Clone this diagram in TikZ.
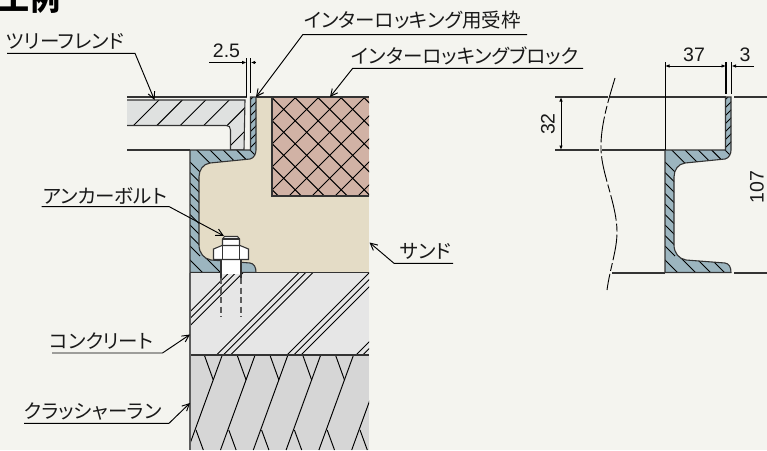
\documentclass[tikz,border=0pt]{standalone}
\usepackage{fontspec}
\setmainfont{Liberation Sans}
\newfontfamily\jpfont[RawFeature={+palt}]{Noto Sans CJK JP}
\usetikzlibrary{arrows.meta}
\definecolor{paper}{HTML}{F4F4EF}
\definecolor{steelblue}{HTML}{9CB5BF}
\definecolor{sandfill}{HTML}{E4DCC6}
\definecolor{brickfill}{HTML}{D1B2A5}
\definecolor{framefill}{HTML}{DFE1E0}
\definecolor{concfill}{HTML}{E6E6E6}
\definecolor{crushfill}{HTML}{D6D6D6}
\definecolor{inkgrey}{HTML}{333333}
\tikzset{
  lbl/.style={font=\jpfont\fontsize{19.5}{20}\selectfont,inner sep=0pt,text=black!90},
  dimtext/.style={font=\fontsize{19.5}{20}\selectfont,inner sep=0pt,text=black!90},
  lead/.style={line width=0.95pt,-{Straight Barb[length=7pt,width=7pt]}},
  dimline/.style={line width=0.9pt,{Latex[length=4.5pt,width=3.5pt]}-{Latex[length=4.5pt,width=3.5pt]}},
  dimend/.style={line width=0.9pt,-{Latex[length=4.5pt,width=3.5pt]}},
  edge/.style={line width=1.1pt,draw=inkgrey},
  hatch/.style={line width=0.95pt,black}
}
% channel section, #1 = start points of the lower flange hatching
\def\channel#1{
  \def\channelpath{(190,150) -- (250.5,150) -- (250.5,97) -- (256,97) -- (256,150) .. controls (256,154) and (254,158) .. (250,159) -- (210,163) .. controls (203,164) and (199,170) .. (199,177) -- (199,245) .. controls (199,253) and (204,259) .. (211,260) -- (250,263) .. controls (254,263.5) and (256,267) .. (256,272.5) -- (190,272.5) -- cycle}
  \fill[steelblue] \channelpath;
  \begin{scope}
    \clip \channelpath;
    \foreach \x in {196.7,210,223.3,236.6,250}
      \draw[hatch] (\x,150) -- ++(22,22);
    \foreach \y in {162,172.5,183,193.5,204,214.5,225,235.5,246}
      \draw[hatch] (190,\y) -- ++(10,10);
    \foreach \x in {#1}
      \draw[hatch] (\x,258) -- ++(17,17);
    \foreach \y in {100,108,116,124,132,140,148}
      \draw[hatch] (250,\y) -- ++(7,-7);
  \end{scope}
  \draw[edge] \channelpath;
}

\begin{document}
\begin{tikzpicture}[x=1pt,y=-1pt]
  \useasboundingbox (0,0) rectangle (767,450);
  \fill[paper] (0,0) rectangle (767,450);

  \node[anchor=base west,inner sep=0pt,font=\jpfont\bfseries\fontsize{31}{31}\selectfont] (title) at (-2,10) {工例};

  % sand
  \fill[sandfill] (195,150) rectangle (369,272);
  \fill[sandfill] (256,97) rectangle (369,150);

  % block
  \fill[brickfill] (272,97) rectangle (369,196);
  \begin{scope}
    \clip (272,97) rectangle (369,196);
    \foreach \k in {-1,...,12} {
      \draw[hatch] ({393+23*\k-90},90) -- ({393+23*\k-200},200);
      \draw[hatch] ({174.4+23*\k+90-23*5},90) -- ({174.4+23*\k+200-23*5},200);
    }
  \end{scope}
  \draw[edge] (369,196) -- (272,196) -- (272,97);
  \draw[edge] (256,97) -- (369,97);

  % frame piece
  \fill[framefill] (127,100) -- (245,100) -- (244,150) -- (230.5,150) -- (230.5,130) .. controls (230.5,127) and (229,125.5) .. (226,125.5) -- (127,125.5) -- cycle;
  \begin{scope}
    \clip (127,100) -- (245,100) -- (244,150) -- (230.5,150) -- (230.5,130) .. controls (230.5,127) and (229,125.5) .. (226,125.5) -- (127,125.5) -- cycle;
    \foreach \k in {0,...,5}
      \draw[hatch] ({159+23.4*\k},100) -- ({109+23.4*\k},150);
  \end{scope}
  \draw[edge] (127,97) -- (246.7,97);
  \draw[edge] (127,100) -- (245,100) -- (244,150) -- (230.5,150) -- (230.5,130) .. controls (230.5,127) and (229,125.5) .. (226,125.5) -- (127,125.5);
  \draw[edge] (127,150) -- (190,150);

  % channel in place
  \channel{188,206}

  % concrete
  \fill[concfill] (190,272.5) rectangle (369,355);
  \begin{scope}
    \clip (190,272.5) rectangle (369,355);
    \foreach \s in {501.7,571.5,642,711}
      \foreach \d in {0,6.8,14}
        \draw[hatch] ({\s+\d-272},272) -- ({\s+\d-355},355);
  \end{scope}

  % crusher run
  \fill[crushfill] (190,355) rectangle (369,450);
  \begin{scope}
    \clip (190,355) rectangle (369,450);
    \foreach \k in {0,...,5}
      \draw[hatch] ({222.3+32.8*\k},355) -- ({187.7+32.8*\k},450);
    \foreach \k in {0,...,4}
      \draw[hatch] ({204.3+32.8*\k},355) -- ({213.3+32.8*\k},380);
    \foreach \k in {0,...,5}
      \draw[hatch] ({196+32.8*\k},430) -- ({203.3+32.8*\k},450);
  \end{scope}
  \draw[edge] (190,272.5) -- (369,272.5);
  \draw[edge] (190,355) -- (369,355);
  \draw[line width=1.3pt,draw=inkgrey!80] (190,272.5) -- (190,450);

  % bolt
  \fill[white] (222,260) rectangle (240,274);
  \draw[line width=1.5pt,draw=inkgrey] (220.8,260) -- (220.8,278);
  \draw[line width=1.5pt,draw=inkgrey] (241.2,260) -- (241.2,278);
  \draw[edge,fill=white] (222.5,245.5) -- (222.5,239) -- (224.5,236.5) -- (237.5,236.5) -- (239.5,239) -- (239.5,245.5);
  \draw[edge] (222.5,239) -- (239.5,239);
  \draw[edge,fill=white] (213.5,249) -- (222,245.5) -- (240,245.5) -- (248.5,249) -- (248.5,259.5) -- (213.5,259.5) -- cycle;
  \draw[edge] (222.5,245.5) -- (222.5,259.5);
  \draw[edge] (239.5,245.5) -- (239.5,259.5);
  \draw[line width=1.1pt,draw=inkgrey!80,dash pattern=on 6pt off 3.5pt] (221,278) -- (221,317);
  \draw[line width=1.1pt,draw=inkgrey!80,dash pattern=on 6pt off 3.5pt] (241,278) -- (241,317);

  % labels with leaders
  \node[lbl] (tree) at (65.5,41.5) {ツリーフレンド};
  \coordinate (treeL) at (7,53.3);
  \coordinate (treeB) at (135,53.3);
  \coordinate (treeT) at (154.5,100);
  \draw[lead] (treeL) -- (treeB) -- (treeT);

  \node[lbl] (recv) at (412.5,20.5) {インターロッキング用受枠};
  \coordinate (recvL) at (527,34.7);
  \coordinate (recvB) at (302.7,34.7);
  \coordinate (recvT) at (256,97);
  \draw[lead] (recvL) -- (recvB) -- (recvT);

  \node[lbl] (ilb) at (465,56) {インターロッキングブロック};
  \coordinate (ilbL) at (583,68.3);
  \coordinate (ilbB) at (352.7,68.3);
  \coordinate (ilbT) at (330,97);
  \draw[lead] (ilbL) -- (ilbB) -- (ilbT);

  \node[lbl] (anchorb) at (105,195.5) {アンカーボルト};
  \coordinate (anchorL) at (41.7,206.7);
  \coordinate (anchorB) at (169.3,206.7);
  \coordinate (anchorT) at (224,236);
  \draw[lead] (anchorL) -- (anchorB) -- (anchorT);

  \node[lbl] (sand) at (425.5,251) {サンド};
  \coordinate (sandL) at (453,263.3);
  \coordinate (sandB) at (394,263.3);
  \coordinate (sandT) at (369.5,242.5);
  \draw[lead] (sandL) -- (sandB) -- (sandT);

  \node[lbl] (conc) at (101.5,341) {コンクリート};
  \coordinate (concL) at (52,353);
  \coordinate (concB) at (162.5,353);
  \coordinate (concT) at (190,334.5);
  \draw[lead] (concL) -- (concB) -- (concT);

  \node[lbl] (crush) at (93,412) {クラッシャーラン};
  \coordinate (crushL) at (24,423.3);
  \coordinate (crushB) at (169,423.3);
  \coordinate (crushT) at (190,403);
  \draw[lead] (crushL) -- (crushB) -- (crushT);

  % dimension 2.5
  \node[dimtext] (dimA) at (226.5,51) {2.5};
  \coordinate (dimAL) at (209,62.5);
  \coordinate (dimAR) at (246.7,62.5);
  \coordinate (dimARb) at (256,62.5);
  \coordinate (dimARc) at (250.7,62.5);
  \draw[dimend] (dimAL) -- (dimAR);
  \draw[dimend] (dimARb) -- (dimARc);
  \draw[line width=0.9pt] (246.7,58) -- (246.7,97);
  \draw[line width=0.9pt] (250.7,58) -- (250.7,93);

  % detail on the right
  \begin{scope}[xshift=475pt]
    \channel{188,206,221,235,248}
  \end{scope}
  \draw[edge] (555,97) -- (608,97);
  \draw[edge] (609.5,97) -- (726,97);
  \draw[edge] (734,97) -- (767,97);
  \draw[edge] (555,150) -- (599,150);
  \draw[edge] (602,150) -- (665,150);
  \draw[edge] (612,273) -- (665,273);
  \draw[edge] (734,273) -- (767,273);
  \draw[line width=0.9pt,dash pattern=on 26pt off 3pt on 8pt off 3pt] (615,78) .. controls (610,95) and (600,125) .. (601,150) .. controls (602,175) and (617,205) .. (617,232) .. controls (617,250) and (610,268) .. (607,290);

  \node[dimtext] (dimB) at (694,55) {37};
  \node[dimtext] (dimC) at (745,55) {3};
  \node[dimtext,rotate=90] (dimD) at (548,124) {32};
  \node[dimtext,rotate=90] (dimE) at (757,187) {107};
  \coordinate (dimBL) at (665,66);
  \coordinate (dimBR) at (726,66);
  \coordinate (dimCL) at (754,66);
  \coordinate (dimCR) at (731.5,66);
  \coordinate (dimDT) at (561,97);
  \coordinate (dimDB) at (561,150);
  \draw[dimline] (dimBL) -- (dimBR);
  \draw[dimend] (dimCL) -- (dimCR);
  \draw[dimline] (dimDT) -- (dimDB);
  \draw[line width=0.9pt] (665,62) -- (665,150);
  \draw[line width=1.5pt] (726,62) -- (726,94);
  \draw[line width=0.9pt] (731.5,62) -- (731.5,94);
\end{tikzpicture}
\end{document}
